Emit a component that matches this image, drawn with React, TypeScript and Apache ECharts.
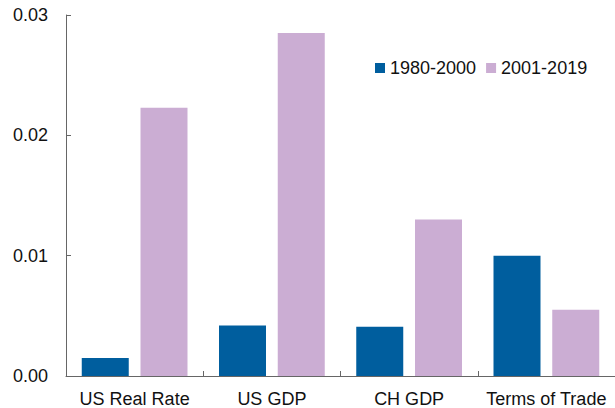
import React, { useEffect, useRef } from "react";
import * as echarts from "echarts";

const categories = ["US Real Rate", "US GDP", "CH GDP", "Terms of Trade"];
const series1980 = [0.0015, 0.0042, 0.0041, 0.01];
const series2001 = [0.0223, 0.0285, 0.013, 0.0055];
const yTicks = [0, 0.01, 0.02, 0.03];

export default function App() {
  const ref = useRef<HTMLDivElement>(null);
  useEffect(() => {
    if (!ref.current) return;
    const chart = echarts.init(ref.current, null, { renderer: "svg" });
    const font = "'Liberation Sans', Arial, sans-serif";
    chart.setOption({
      animation: false,
      textStyle: { fontFamily: font },
      grid: { left: 66, right: -1, top: 15, bottom: 31, containLabel: false },
      legend: {
        left: 370,
        top: 54,
        itemWidth: 10,
        itemHeight: 10,
        itemGap: 10,
        icon: "rect",
        textStyle: { fontSize: 18, color: "#111", fontFamily: font },
        data: ["1980-2000", "2001-2019"],
      },
      xAxis: {
        type: "category",
        data: categories,
        axisLine: { lineStyle: { color: "#666", width: 1 } },
        axisTick: { show: true, inside: true, length: 5, lineStyle: { color: "#666" } },
        axisLabel: {
          fontSize: 18,
          color: "#111",
          margin: 14,
          fontFamily: font,
          interval: 0,
          hideOverlap: false,
        },
      },
      yAxis: {
        type: "value",
        min: yTicks[0],
        max: yTicks[yTicks.length - 1],
        interval: 0.01,
        splitLine: { show: false },
        axisLine: { show: true, lineStyle: { color: "#666", width: 1 } },
        axisTick: { show: true, inside: true, length: 5, lineStyle: { color: "#666" } },
        axisLabel: {
          fontSize: 18,
          color: "#111",
          margin: 18,
          fontFamily: font,
          formatter: (v: number) => v.toFixed(2),
        },
      },
      series: [
        {
          name: "1980-2000",
          type: "bar",
          data: series1980,
          barWidth: 47,
          barGap: "25%",
          itemStyle: { color: "#005E9E" },
        },
        {
          name: "2001-2019",
          type: "bar",
          data: series2001,
          barWidth: 47,
          barGap: "25%",
          itemStyle: { color: "#CBADD3" },
        },
      ],
    });
    return () => chart.dispose();
  }, []);
  return <div ref={ref} style={{ width: 615, height: 408, position: "absolute", left: 0, top: 0 }} />;
}
